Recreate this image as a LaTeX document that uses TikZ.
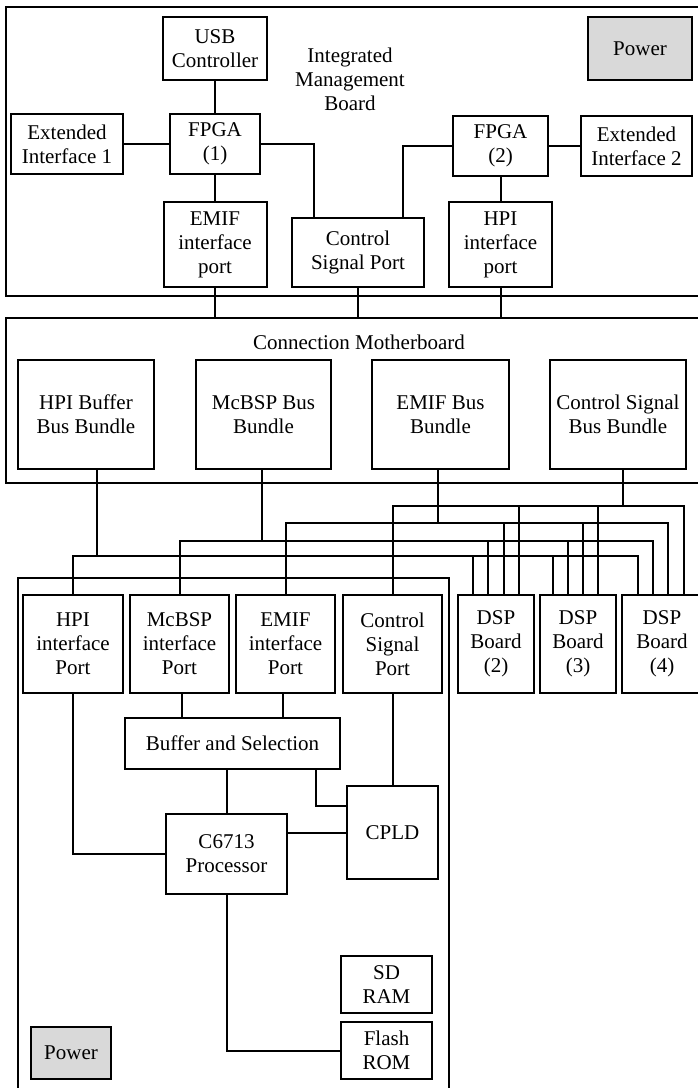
\documentclass[tikz,border=0pt]{standalone}
\usepackage{fontspec}
\setmainfont{Liberation Serif}
\begin{document}
\begin{tikzpicture}[x=1pt,y=-1pt,line width=2pt,
    every node/.style={font=\fontsize{21}{24}\selectfont},
    box/.style={draw,align=center,inner sep=0pt},
    board/.style={draw,inner sep=0pt},
    pwr/.style={box,fill=gray!30}]
        \useasboundingbox (0,0) rectangle (697,1088);
        \node (imb) [board,minimum width=698pt,minimum height=289pt] at (355,151.5) {};
        \node (mb) [board,minimum width=698pt,minimum height=165pt] at (355,400.5) {};
        \node (dsp1) [board,minimum width=431pt,minimum height=530pt] at (233.5,843) {};
        \node (usb) [box,minimum width=104pt,minimum height=63pt] at (215,48.5) {USB\\Controller};
        \node (imblabel) [align=center] at (350,79) {Integrated\\Management\\Board};
        \node (pwr1) [pwr,minimum width=104pt,minimum height=63pt] at (640,48.5) {Power};
        \node (ext1) [box,minimum width=112pt,minimum height=60pt] at (67,144) {Extended\\Interface 1};
        \node (fpga1) [box,minimum width=90pt,minimum height=60pt] at (215,144) {FPGA\\(1)};
        \node (fpga2) [box,minimum width=95pt,minimum height=60pt] at (500.5,146) {FPGA\\(2)};
        \node (ext2) [box,minimum width=111pt,minimum height=60pt] at (636.5,146) {Extended\\Interface 2};
        \node (emif1) [box,minimum width=103pt,minimum height=85pt] at (215,244.5) {EMIF\\interface\\port};
        \node (ctrl1) [box,minimum width=132pt,minimum height=69pt] at (358,252.5) {Control\\Signal Port};
        \node (hpi1) [box,minimum width=103pt,minimum height=85pt] at (500.5,244.5) {HPI\\interface\\port};
        \node (mblabel) at (359,342) {Connection Motherboard};
        \node (bhpi) [box,minimum width=136pt,minimum height=109pt] at (86,414.5) {HPI Buffer\\Bus Bundle};
        \node (bmcbsp) [box,minimum width=135pt,minimum height=109pt] at (263.5,414.5) {McBSP Bus\\Bundle};
        \node (bemif) [box,minimum width=137pt,minimum height=109pt] at (440.5,414.5) {EMIF Bus\\Bundle};
        \node (bctrl) [box,minimum width=136pt,minimum height=109pt] at (618,414.5) {Control Signal\\Bus Bundle};
        \node (hpi2) [box,minimum width=100pt,minimum height=98pt] at (73,644) {HPI\\interface\\Port};
        \node (mcbsp2) [box,minimum width=99pt,minimum height=98pt] at (179.5,644) {McBSP\\interface\\Port};
        \node (emif2) [box,minimum width=99pt,minimum height=98pt] at (285.5,644) {EMIF\\interface\\Port};
        \node (ctrl2) [box,minimum width=99pt,minimum height=98pt] at (392.5,644) {Control\\Signal\\Port};
        \node (dsp2) [box,minimum width=76pt,minimum height=98pt] at (496,644) {DSP\\Board\\(2)};
        \node (dsp3) [box,minimum width=76pt,minimum height=98pt] at (578,644) {DSP\\Board\\(3)};
        \node (dsp4) [box,minimum width=80pt,minimum height=98pt] at (662,644) {DSP\\Board\\(4)};
        \node (buf) [box,minimum width=215pt,minimum height=51pt] at (232.5,743.5) {Buffer and Selection};
        \node (cpld) [box,minimum width=91pt,minimum height=93pt] at (392.5,832.5) {CPLD};
        \node (dsp) [box,minimum width=121pt,minimum height=80pt] at (226.5,854) {C6713\\Processor};
        \node (sdram) [box,minimum width=91pt,minimum height=57pt] at (386.5,984.5) {SD\\RAM};
        \node (flash) [box,minimum width=91pt,minimum height=57pt] at (386.5,1050.5) {Flash\\ROM};
        \node (pwr2) [pwr,minimum width=80pt,minimum height=52pt] at (71,1053) {Power};
        \draw (usb) -- (fpga1);
        \draw (ext1) -- (fpga1);
        \draw (fpga1) -- (emif1);
        \draw (fpga1.east) -| ([xshift=-44pt]ctrl1.north);
        \draw (fpga2.west) -| ([xshift=45pt]ctrl1.north);
        \draw (fpga2) -- (ext2);
        \draw (fpga2) -- (hpi1);
        \draw (emif1.south) -- (emif1.south |- mb.north);
        \draw (ctrl1.south) -- (ctrl1.south |- mb.north);
        \draw (hpi1.south) -- (hpi1.south |- mb.north);
        \draw ([xshift=5pt]bctrl.south) -- ++(0,37);
        \draw ([xshift=-3pt]bemif.south) -- ++(0,54);
        \draw ([xshift=-2pt]bmcbsp.south) -- ++(0,72);
        \draw ([xshift=11pt]bhpi.south) -- ++(0,87);
        \draw (ctrl2.north) |- ([xshift=22pt]dsp4.north |- 0,506) -- ([xshift=22pt]dsp4.north);
        \draw (emif2.north) |- ([xshift=6pt]dsp4.north |- 0,523) -- ([xshift=6pt]dsp4.north);
        \draw (mcbsp2.north) |- ([xshift=-9pt]dsp4.north |- 0,541) -- ([xshift=-9pt]dsp4.north);
        \draw (hpi2.north) |- ([xshift=-24pt]dsp4.north |- 0,556) -- ([xshift=-24pt]dsp4.north);
        \draw ([xshift=23pt]dsp2.north) -- ++(0,-89);
        \draw ([xshift=8pt]dsp2.north) -- ++(0,-72);
        \draw ([xshift=-8pt]dsp2.north) -- ++(0,-54);
        \draw ([xshift=-23pt]dsp2.north) -- ++(0,-39);
        \draw ([xshift=20pt]dsp3.north) -- ++(0,-89);
        \draw ([xshift=5pt]dsp3.north) -- ++(0,-72);
        \draw ([xshift=-10pt]dsp3.north) -- ++(0,-54);
        \draw ([xshift=-25pt]dsp3.north) -- ++(0,-39);
        \draw ([xshift=2.5pt]mcbsp2.south) -- ([xshift=2.5pt]mcbsp2.south |- buf.north);
        \draw ([xshift=-2.5pt]emif2.south) -- ([xshift=-2.5pt]emif2.south |- buf.north);
        \draw (ctrl2) -- (cpld);
        \draw ([xshift=83.5pt]buf.south) |- ([yshift=26.5pt]cpld.west);
        \draw (buf.south -| dsp.north) -- (dsp.north);
        \draw (dsp.east |- cpld.west) -- (cpld.west);
        \draw (hpi2.south) |- (dsp.west);
        \draw (dsp.south) |- (flash.west);
\end{tikzpicture}
\end{document}
